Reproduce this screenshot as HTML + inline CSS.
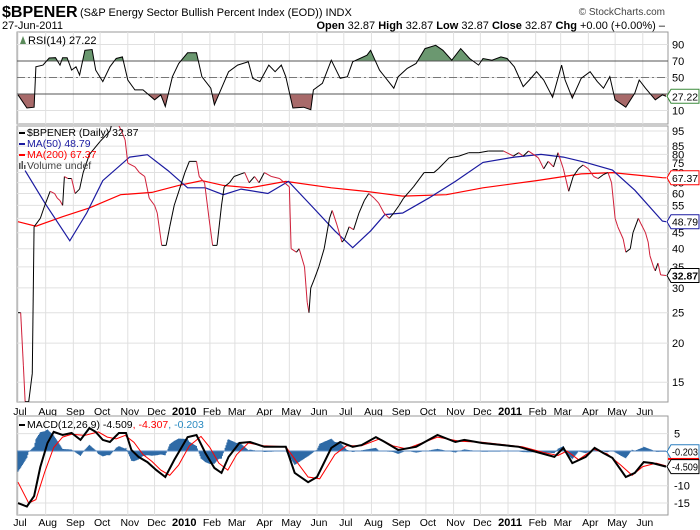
<!DOCTYPE html>
<html><head><meta charset="utf-8"><style>
html,body{margin:0;padding:0;background:#fff;}
svg{display:block;font-family:"Liberation Sans",sans-serif;}
</style></head><body>
<svg id="chart" width="700" height="530" viewBox="0 0 700 530">
<g id="g-header">
<text x="2" y="17" font-size="16" font-weight="bold">$BPENER</text>
<text x="80" y="16" font-size="11">(S&amp;P Energy Sector Bullish Percent Index (EOD))  INDX</text>
<text x="665" y="15" font-size="10" text-anchor="end" fill="#444">© StockCharts.com</text>
<text x="2" y="29" font-size="11">27-Jun-2011</text>
<text x="665" y="29" font-size="11" text-anchor="end"><tspan font-weight="bold">Open</tspan> 32.87 <tspan font-weight="bold">High</tspan> 32.87 <tspan font-weight="bold">Low</tspan> 32.87 <tspan font-weight="bold">Close</tspan> 32.87 <tspan font-weight="bold">Chg</tspan> +0.00 (+0.00%) –</text>
</g>
<g id="g-rsi"></g>
<g id="g-price"></g>
<g id="g-macd"></g>
</svg>
<script>
// ---- data (days since 1-Jul-2009) ----
const priceDays=[0,3,6,8,12,16,18,25,30,36,41,44,47,50,52,56,60,64,69,73,80,92,103,107,112,116,120,123,131,136,142,147,153,156,161,166,170,175,181,187,192,200,203,209,214,218,223,228,231,237,242,254,259,265,270,276,284,293,304,306,312,315,321,324,326,328,332,337,343,349,352,357,363,366,371,376,382,388,393,399,404,410,416,421,427,432,443,455,466,471,483,494,505,516,527,544,555,561,566,572,583,589,594,600,605,611,617,622,628,633,639,645,650,656,661,665,669,672,678,681,686,689,695,698,703,706,708,712,714,717,720,726];
const priceVals=[25,25,17,13,13,16,47,50,55,61,60,58,57,55,68,67,67,60,62,70,80,88,95,105,100,95,89,75,73,70,68,58,55,52,41,41,47,55,62,70,76,76,68,65,50,41,41,55,63,65,68,70,65,68,65,70,68,67,63,40,39,40,35,27,25,30,32,35,40,50,53,48,42,43,47,46,52,57,60,58,56,52,50,52,55,58,63,70,70,72,78,79,81,81,82,82,79,81,79,82,78,72,76,73,81,72,61,68,72,74,72,68,67,69,70,65,50,47,43,39,40,45,50,48,45,42,38,35,34,36,33,32.87];
const ma50Days=[8,30,58,77,95,125,145,168,190,210,230,250,280,303,331,355,375,395,411,431,460,490,521,556,586,611,636,666,691,722,726];
const ma50Vals=[71,56,42.4,52,66,78.4,79.8,71,62.6,62.6,59.5,62,60,65.6,54,45.6,40.3,45.6,51.4,52,58,65.6,75.4,78.4,80,78.4,75.4,71.3,61.5,49,48.79];
const ma200Days=[0,20,50,80,115,150,180,206,230,260,300,351,391,431,480,521,581,631,666,722,726];
const ma200Vals=[48.8,47.2,50.6,54,59.5,60.5,63.7,66,63.7,62.6,65.6,62.6,60.9,58.9,59.5,62.6,66,69.3,70,67.4,67.37];
const rsiDays=[0,10,18,20,28,35,42,47,50,55,60,65,69,75,83,87,95,103,110,117,123,131,140,153,160,165,173,180,190,200,206,216,220,228,236,246,258,263,271,281,288,295,300,308,320,328,331,341,351,361,369,375,391,395,405,421,426,436,446,456,468,476,486,496,506,516,521,531,541,548,556,566,573,581,589,599,609,613,621,631,641,649,656,663,669,681,691,696,703,714,722,726];
const rsiVals=[29,13,14,63,65,73.6,74,65,74,74,59,63,53,83,84,59,45,63,73,75,47,35,35,23,29,15,51,67,80,80,51,37,17,37,57,65,69,49,45,65,57,65,51,13,14,11,35,43,71,49,51,69,77,83,59,37,51,61,67,85,89,83,71,85,73,65,73,71,75,73,63,39,47,57,47,26,65,47,25,49,57,45,37,51,23,14,31,47,37,23,29,27.22];
const macdDays=[0,10,18,25,33,40,50,60,70,80,87,95,103,113,121,127,135,145,155,165,175,190,200,210,220,228,236,248,260,276,288,300,310,325,335,351,361,375,385,401,411,426,446,470,490,500,520,561,581,601,611,621,636,646,656,666,681,691,701,711,726];
const macdVals=[-15,-16,-13,-4.6,2.3,5.5,4.6,5.2,3.2,6.6,5.5,3.2,2.6,5.2,5.2,0.3,-1.7,-3.2,-5.5,-7.5,-2.6,4,4.6,-0.6,-4.9,-6.3,-1.7,2.3,2.6,1.2,1.2,1.2,-6.3,-9,-7.5,0.9,2.6,1.2,1.7,4,2.6,0.3,1.2,4.6,2.6,3.2,2.3,1.2,-0.3,-1.7,0.9,-3.5,-1.7,0.9,-0.6,-2,-7.5,-6.3,-3.2,-3.5,-4.509];
const signalDays=[0,12,20,30,40,50,60,75,90,100,110,120,130,140,150,160,170,180,192,205,215,225,235,245,258,275,300,312,325,338,355,368,385,405,420,435,470,495,520,565,590,605,615,628,645,660,675,688,700,715,726];
const signalVals=[-9,-15,-14,-6,1,4,4.8,4.5,5.5,4,3.5,4.5,2.5,-1,-3,-5.5,-7,-4,1.5,4.2,1,-3.5,-5.5,-1,2.3,1.5,1.2,-3,-7.5,-8,-1,1.5,1.5,3.5,1.5,0.6,4,2.8,2.5,1.2,-0.5,-1.3,0,-2.5,0.5,-0.8,-4,-7,-4.5,-3.5,-4.307];
const monthDays=[0,31,62,92,123,153,184,215,243,274,304,335,365,396,427,457,488,518,549,580,608,639,669,700];
const monthLabels=["Jul","Aug","Sep","Oct","Nov","Dec","2010","Feb","Mar","Apr","May","Jun","Jul","Aug","Sep","Oct","Nov","Dec","2011","Feb","Mar","Apr","May","Jun"];
const priceTicks=[95,85,80,75,70,65,60,55,50,45,40,35,30,25,20,15];
const rsiTicks=[90,70,50,10];
const macdTicks=[5,-10,-15];

// ---- scales ----
const X0=17,X1=666,TOTAL=726;
const sx=d=>18+d*(X1-18)/TOTAL;
const rsiY=v=>94-(v-30)*0.825;
const pY=v=>131+136.1*(Math.log(95)-Math.log(v));
const mY=v=>451-v*3.47;
const NS="http://www.w3.org/2000/svg";
function mk(tag,attrs,parent){const e=document.createElementNS(NS,tag);for(const k in attrs)e.setAttribute(k,attrs[k]);parent.appendChild(e);return e;}
function interp(days,vals,d){if(d<=days[0])return vals[0];for(let i=1;i<days.length;i++){if(d<=days[i]){const t=(d-days[i-1])/(days[i]-days[i-1]);return vals[i-1]+t*(vals[i]-vals[i-1]);}}return vals[vals.length-1];}
function pts(days,vals,fy){return days.map((d,i)=>sx(d).toFixed(1)+","+fy(vals[i]).toFixed(1)).join(" ");}

function panelFrame(g,top,bot,name){
  const r=mk('rect',{x:X0,y:top,width:X1-X0+2,height:bot-top,fill:'#fff',stroke:'#999','stroke-width':1},g);
  
  monthDays.forEach(d=>{const l=mk('line',{x1:sx(d),x2:sx(d),y1:top,y2:bot,stroke:'#e0e0e0'},g);
    });
}
function monthAxis(g,y){
  monthLabels.forEach((m,i)=>{const bold=/^20/.test(m);
    const t=mk('text',{x:sx(monthDays[i])+2,y:y,'font-size':bold?11:10.5,'font-weight':bold?'bold':'normal','text-anchor':'middle'},g);
    t.textContent=m;});
}
function tag(g,y,txt,color,bold){
  const p=mk('path',{d:`M667,${y} L671,${y-7} L699,${y-7} L699,${y+7} L671,${y+7} Z`,fill:'#fff',stroke:color,'stroke-width':1},g);
  
  const t=mk('text',{x:672,y:y+4,'font-size':10,'font-weight':bold?'bold':'normal',textLength:26,lengthAdjust:'spacingAndGlyphs',fill:'#000'},g);
  t.textContent=txt;
}

// ---- RSI panel ----
(function(){
  const g=document.getElementById('g-rsi');const top=32,bot=124;
  panelFrame(g,top,bot,'rsi-panel');
  rsiTicks.forEach(v=>{const t=mk('text',{x:672,y:rsiY(v)+4,'font-size':11},g);t.textContent=v;
    
    const l=mk('line',{x1:X0,x2:X1+2,y1:rsiY(v),y2:rsiY(v),stroke:'#e0e0e0'},g);});
  const defs=mk('defs',{},g);
  const c1=mk('clipPath',{id:'above70'},defs);mk('rect',{x:X0,y:top,width:X1-X0,height:rsiY(70)-top},c1);
  const c2=mk('clipPath',{id:'below30'},defs);mk('rect',{x:X0,y:rsiY(30),width:X1-X0,height:bot-rsiY(30)},c2);
  const p=pts(rsiDays,rsiVals,rsiY);
  const f1=mk('polygon',{points:`${sx(0)},${rsiY(70)} ${p} ${sx(TOTAL)},${rsiY(70)}`,fill:'#6b9870','clip-path':'url(#above70)'},g);
  
  const f2=mk('polygon',{points:`${sx(0)},${rsiY(30)} ${p} ${sx(TOTAL)},${rsiY(30)}`,fill:'#a86a6a','clip-path':'url(#below30)'},g);
  
  [70,30].forEach(v=>{const l=mk('line',{x1:X0,x2:X1+2,y1:rsiY(v),y2:rsiY(v),stroke:'#555'},g);
    });
  const m=mk('line',{x1:X0,x2:X1+2,y1:rsiY(50),y2:rsiY(50),stroke:'#777','stroke-dasharray':'8,3,2,3'},g);
  
  const l=mk('polyline',{points:p,fill:'none',stroke:'#000','stroke-width':1},g);
  
  const t=mk('text',{x:28,y:44,'font-size':11},g);t.textContent='RSI(14) 27.22';
  
  const ic=mk('path',{d:'M20,44 L23,36 L26,44 Z',fill:'#5a8a5a'},g);
  tag(g,rsiY(27.22),'27.22','#3a8a3a',false);
})();

// ---- Price panel ----
(function(){
  const g=document.getElementById('g-price');const top=126,bot=402;
  panelFrame(g,top,bot,'price-panel');
  priceTicks.forEach(v=>{const l=mk('line',{x1:X0,x2:X1+2,y1:pY(v),y2:pY(v),stroke:'#e0e0e0'},g);
    
    const t=mk('text',{x:672,y:pY(v)+4,'font-size':11},g);t.textContent=v;
    });
  const defs=mk('defs',{},g);const c=mk('clipPath',{id:'pclip'},defs);mk('rect',{x:X0,y:top,width:X1-X0+2,height:bot-top},c);
  const cg=mk('g',{'clip-path':'url(#pclip)'},g);
  const a=mk('polyline',{points:pts(ma200Days,ma200Vals,pY),fill:'none',stroke:'#f00','stroke-width':1.2},cg);
  
  const b=mk('polyline',{points:pts(ma50Days,ma50Vals,pY),fill:'none',stroke:'#1a1aa0','stroke-width':1.2},cg);
  
  for(let i=1;i<priceDays.length;i++){
    const up=priceVals[i]>=priceVals[i-1];
    const s=mk('line',{x1:sx(priceDays[i-1]),y1:pY(priceVals[i-1]),x2:sx(priceDays[i]),y2:pY(priceVals[i]),stroke:up?'#000':'#d0203a','stroke-width':1},cg);
    
  }
  const leg=[['$BPENER (Daily) 32.87','#000'],['MA(50) 48.79','#1a1aa0'],['MA(200) 67.37','#f00']];
  leg.forEach((e,i)=>{const y=136+i*11;
    const r=mk('rect',{x:19,y:y-4,width:6,height:2,fill:e[1]},g);
    const t=mk('text',{x:27,y:y,'font-size':10.5,fill:e[1]},g);t.textContent=e[0];
    });
  const t=mk('text',{x:27,y:169,'font-size':10.5,fill:'#444'},g);t.textContent='Volume undef';
  
  const vi=mk('path',{d:'M19,169 v-6 h1.5 v6 M21.5,169 v-8 h1.5 v8 M24,169 v-4 h1.5 v4',fill:'#555'},g);
  tag(g,pY(67.37),'67.37','#f00',false);
  tag(g,pY(48.79),'48.79','#1a1aa0',false);
  tag(g,pY(32.87),'32.87','#000',true);
  monthAxis(g,415);
})();

// ---- MACD panel ----
(function(){
  const g=document.getElementById('g-macd');const top=416,bot=515;
  panelFrame(g,top,bot,'macd-panel');
  macdTicks.forEach(v=>{const l=mk('line',{x1:X0,x2:X1+2,y1:mY(v),y2:mY(v),stroke:'#e0e0e0'},g);
    
    const t=mk('text',{x:674,y:mY(v)+4,'font-size':11},g);t.textContent=v;
    });
  let d='';
  for(let day=0;day<=TOTAL;day+=1){
    const h=interp(macdDays,macdVals,day)-interp(signalDays,signalVals,day);
    const x=sx(day),y0=mY(0),y1=mY(h);
    d+=`M${x.toFixed(1)},${y0.toFixed(1)}V${y1.toFixed(1)}`;
  }
  const hist=mk('path',{d:d,stroke:'#2e6aa6','stroke-width':1,fill:'none'},g);
  
  const zl=mk('line',{x1:X0,x2:X1,y1:mY(0),y2:mY(0),stroke:'#5a8ac0','stroke-width':1},g);
  const sg=mk('polyline',{points:pts(signalDays,signalVals,mY),fill:'none',stroke:'#f00','stroke-width':1},g);
  
  const ml=mk('polyline',{points:pts(macdDays,macdVals,mY),fill:'none',stroke:'#000','stroke-width':2},g);
  
  const r=mk('rect',{x:19,y:424,width:6,height:2,fill:'#000'},g);
  const t=mk('text',{x:27,y:428,'font-size':10.5},g);
  t.innerHTML='MACD(12,26,9) -4.509<tspan fill="#f00">, -4.307</tspan><tspan fill="#2a8ac0">, -0.203</tspan>';
  
  tag(g,mY(-0.203),'-0.203','#2a7fbf',false);
  const rm=mk('rect',{x:668,y:mY(-4.307)-8,width:31,height:2,fill:'#f00'},g);
  tag(g,mY(-4.509),'-4.509','#000',false);
  monthAxis(g,526);
})();
</script>
</body></html>
